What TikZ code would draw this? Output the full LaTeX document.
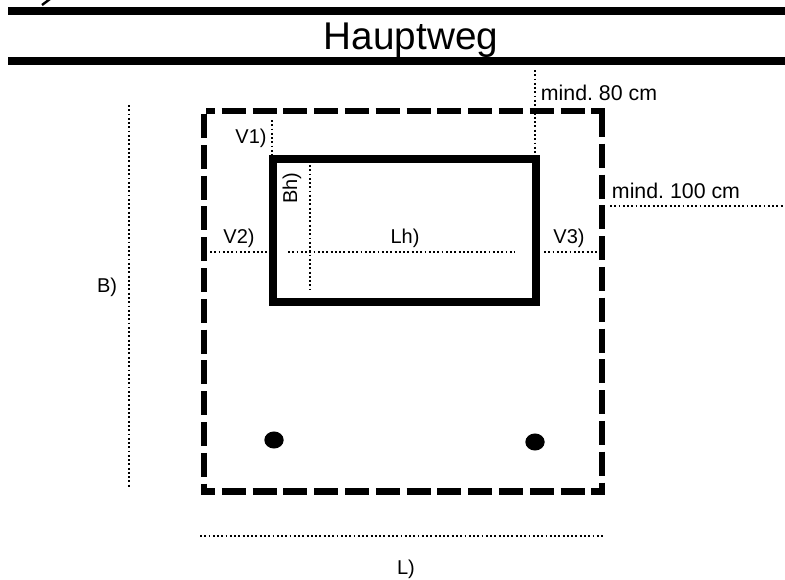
\documentclass[tikz,border=0pt]{standalone}
\usepackage{fontspec}
\setmainfont{Liberation Sans}
\usetikzlibrary{shapes.geometric}
\frenchspacing
\begin{document}
\begin{tikzpicture}[x=0.75pt, y=-0.75pt, line cap=butt]
	\tikzstyle{road}=[line width=6pt]
	\tikzstyle{plot}=[line width=4.8pt, dash pattern=on 18pt off 5.1pt]
	\tikzstyle{house}=[line width=6pt]
	\tikzstyle{measure}=[line width=1.5pt, dash pattern=on 1.4pt off 1.8pt]
	\tikzstyle{tag}=[anchor=base, inner sep=0pt, font=\fontsize{15}{18}\selectfont]
	\tikzstyle{bigtag}=[anchor=base, inner sep=0pt, font=\fontsize{16}{18}\selectfont]
	\tikzstyle{post}=[ellipse, fill=black, inner sep=0pt, minimum width=14.5pt, minimum height=12.8pt]
	\useasboundingbox (0,0) rectangle (785,579);
	% road
	\draw[road] (8,11) -- (785,11);
	\draw[road] (8,61) -- (785,61);
	\draw[line width=1.8pt] (50,-1) -- (42,5);
	\node[anchor=base, inner sep=0pt, font=\fontsize{29}{32}\selectfont] (road) at (411,49) {Hauptweg};
	% plot
	\draw[plot, dash phase=11.3pt] (206,111) -- (605,111);
	\draw[plot, dash phase=7.5pt] (201,491.5) -- (605,491.5);
	\draw[plot] (204,114) -- (204,495);
	\draw[plot, dash phase=-3.7pt] (602,108) -- (602,495);
	% house
	\draw[house] (273,159) rectangle (536,302);
	% posts
	\node[post] (postL) at (274,440) {};
	\node[post] (postR) at (535,442) {};
	% measures
	\draw[measure] (129,105) -- (129,488);
	\draw[measure] (200,536) -- (603,536);
	\draw[measure] (272,120) -- (272,156);
	\draw[measure] (535,70) -- (535,155);
	\draw[measure] (310,165) -- (310,290);
	\draw[measure] (288,252) -- (515,252);
	\draw[measure] (210,252) -- (268,252);
	\draw[measure] (544,252) -- (600,252);
	\draw[measure] (610,206) -- (784,206);
	% labels
	\node[tag] (V1) at (251,143) {V1)};
	\node[tag] (V2) at (239,243) {V2)};
	\node[tag] (V3) at (569,243) {V3)};
	\node[tag] (Lh) at (405,243) {Lh)};
	\node[tag, rotate=90] (Bh) at (297,188) {Bh)};
	\node[tag] (B) at (107,292) {B)};
	\node[tag] (L) at (406,574) {L)};
	\node[bigtag] (min80) at (599,100) {mind. 80 cm};
	\node[bigtag] (min100) at (676,198) {mind. 100 cm};
\end{tikzpicture}
\end{document}
